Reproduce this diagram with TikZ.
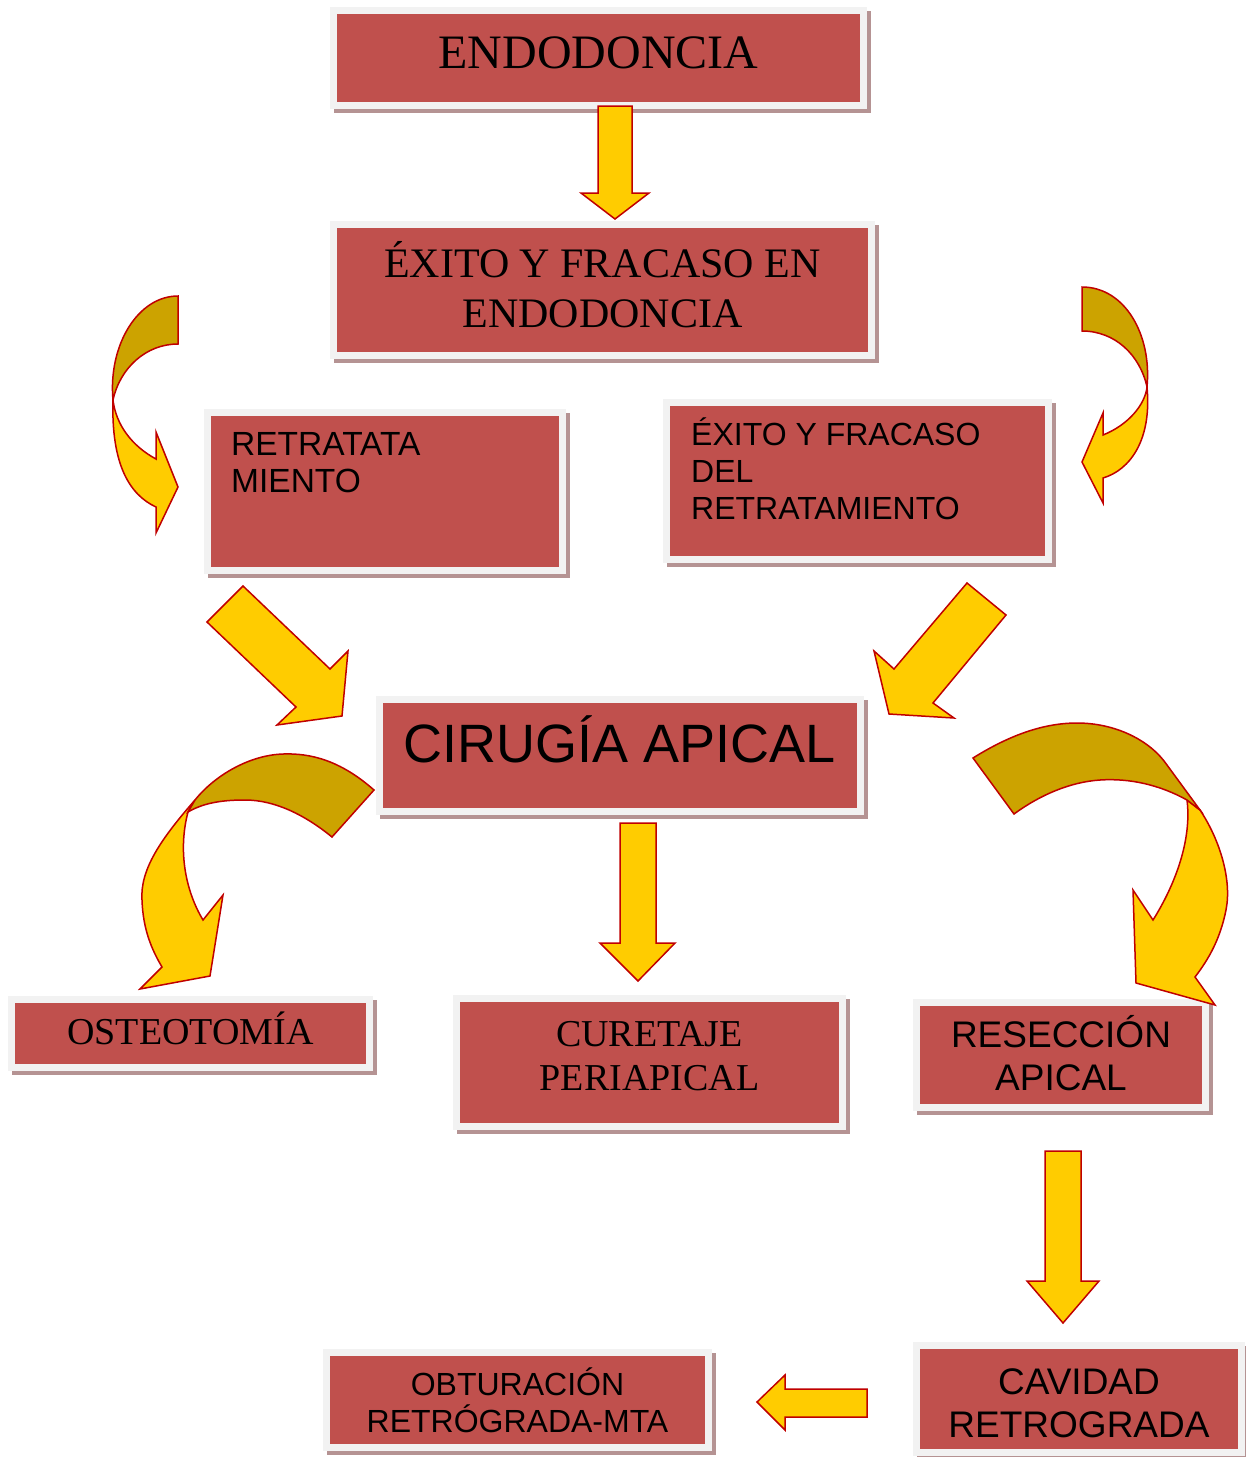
\documentclass[tikz,border=0pt]{standalone}
\usepackage{fontspec}
\setmainfont{Liberation Serif}
\setsansfont{Liberation Sans}
\usetikzlibrary{calc}
\definecolor{boxred}{HTML}{C0504D}
\definecolor{boxframe}{HTML}{F2F2F2}
\definecolor{boxshade}{RGB}{181,147,147}
\definecolor{arrowfill}{HTML}{FFCC00}
\definecolor{arrowback}{HTML}{CCA300}
\definecolor{arrowline}{HTML}{C00000}
\newcommand{\fsize}[2]{\fontsize{#1}{#2}\selectfont}

\begin{document}
\begin{tikzpicture}[x=1pt,y=-1pt,
    box/.style={draw=boxframe, line width=7pt, fill=boxred, inner sep=0pt, align=center,
      preaction={draw=boxshade, fill=boxshade, transform canvas={xshift=4pt,yshift=-4pt}}},
    boxtext/.style={anchor=base west, inner sep=0pt, align=left},
    blockarr/.style={draw=arrowline, line width=1.5pt, fill=arrowfill, line join=miter},
    backarr/.style={blockarr, fill=arrowback}]
    \useasboundingbox (0,0) rectangle (1246,1457);
    \fill[white] (0,0) rectangle (1246,1457);

    % boxes
    \node[box, minimum width=530, minimum height=95, font=\fsize{48}{58}, text depth=10pt]
      (endo) at (598.5,58) {ENDODONCIA};
    \node[box, minimum width=538, minimum height=131, font=\fsize{42}{50}, text depth=12pt]
      (exito) at (602.5,290) {ÉXITO Y FRACASO EN\\ENDODONCIA};
    \node[box, minimum width=355, minimum height=158] (retra) at (385,491.5) {};
    \node[box, minimum width=382, minimum height=157] (exret) at (857.5,481) {};
    \node[box, minimum width=481, minimum height=112, font=\sffamily\fsize{54}{62}, text depth=32pt]
      (cirugia) at (620,755.5) {CIRUGÍA APICAL};
    \node[box, minimum width=358, minimum height=68, font=\fsize{38}{44}, text depth=10pt]
      (osteo) at (190.5,1033.5) {OSTEOTOMÍA};
    \node[box, minimum width=386, minimum height=128, font=\fsize{38}{44}, text depth=14pt]
      (curet) at (649.5,1062.5) {CURETAJE\\PERIAPICAL};
    \node[box, minimum width=289, minimum height=105, font=\sffamily\fsize{37}{43}, text depth=4pt]
      (resec) at (1061,1055) {RESECCIÓN\\APICAL};
    \node[box, minimum width=325, minimum height=107, font=\sffamily\fsize{37}{43}, text height=77pt]
      (cavid) at (1079,1399) {CAVIDAD\\RETROGRADA};
    \node[box, minimum width=382, minimum height=95, font=\sffamily\fsize{32}{37}]
      (obtur) at (517.5,1400) {OBTURACIÓN\\RETRÓGRADA-MTA};

    \node[boxtext, font=\sffamily\fsize{33.5}{37}] (retra-txt) at (231,492)
      {RETRATATA\\MIENTO};
    \node[boxtext, font=\sffamily\fsize{32}{37}] (exret-txt) at (691,519)
      {ÉXITO Y FRACASO\\DEL\\RETRATAMIENTO};

    % straight arrows
    \coordinate (a-endo) at (615,106);
    \coordinate (a-cir) at (638,823);
    \coordinate (a-res) at (1063,1151);
    \coordinate (a-cav) at (867,1403);
    \draw[blockarr] (a-endo) -- ++(17,0) -- ++(0,87) -- ++(17,0) -- ++(-34,26)
      -- ++(-34,-26) -- ++(17,0) -- ++(0,-87) -- cycle;
    \draw[blockarr] (a-cir) -- ++(18,0) -- ++(0,120) -- ++(19,0) -- ++(-37,38)
      -- ++(-38,-38) -- ++(20,0) -- ++(0,-120) -- cycle;
    \draw[blockarr] (a-res) -- ++(18,0) -- ++(0,130) -- ++(18,0) -- ++(-36,42)
      -- ++(-36,-42) -- ++(18,0) -- ++(0,-130) -- cycle;
    \draw[blockarr] (a-cav) -- ++(0,14) -- ++(-82,0) -- ++(0,13) -- ++(-28,-28)
      -- ++(28,-27) -- ++(0,14) -- ++(82,0) -- cycle;

    % diagonal arrows
    \draw[blockarr] (243,586) -- (330,669) -- (348,651) -- (342,716) -- (277,725)
      -- (296,707) -- (207,622) -- cycle;
    \draw[blockarr] (967,583) -- (1006,615) -- (933,703) -- (954,718) -- (889,714)
      -- (874,651) -- (894,669) -- cycle;

    % curved arrows
    \draw[blockarr] (113,400) .. controls (111,465) and (130,495) .. (156,507)
      -- (156,533) -- (178,487) -- (156,432) -- (156,459)
      .. controls (132,446) and (116,425) .. (113,400) -- cycle;
    \draw[backarr] (178,296) -- (178,344) .. controls (146,344) and (120,368) .. (113,400)
      .. controls (108,345) and (138,296) .. (178,296) -- cycle;

    \draw[blockarr] (1147,387) .. controls (1152,440) and (1130,470) .. (1103,478)
      -- (1103,503) -- (1082,462) -- (1103,413) -- (1103,435)
      .. controls (1128,425) and (1145,405) .. (1147,387) -- cycle;
    \draw[backarr] (1082,287) -- (1082,331) .. controls (1115,331) and (1140,355) .. (1147,387)
      .. controls (1152,335) and (1125,287) .. (1082,287) -- cycle;

    \draw[blockarr] (195,800) .. controls (160,840) and (140,870) .. (142,900)
      .. controls (143,930) and (152,950) .. (162,967) -- (140,989) -- (210,976)
      -- (223,895) -- (203,920) .. controls (185,890) and (178,850) .. (188,812) -- cycle;
    \draw[backarr] (374,790) .. controls (340,760) and (310,753) .. (283,754)
      .. controls (250,755) and (215,775) .. (195,800) -- (188,812)
      .. controls (205,802) and (225,800) .. (245,800)
      .. controls (275,800) and (305,815) .. (332,837) -- cycle;

    \draw[blockarr] (1187,800) -- (1200,810) .. controls (1220,840) and (1232,880) .. (1226,910)
      .. controls (1220,940) and (1208,960) .. (1195,977) -- (1215,1005) -- (1136,983)
      -- (1133,890) -- (1153,920) .. controls (1175,885) and (1192,840) .. (1187,800) -- cycle;
    \draw[backarr] (973,758) .. controls (1005,738) and (1040,723) .. (1077,723)
      .. controls (1115,723) and (1150,740) .. (1167,765) -- (1200,810) -- (1187,800)
      .. controls (1160,785) and (1130,778) .. (1100,780)
      .. controls (1070,782) and (1040,795) .. (1014,814) -- cycle;
\end{tikzpicture}
\end{document}
